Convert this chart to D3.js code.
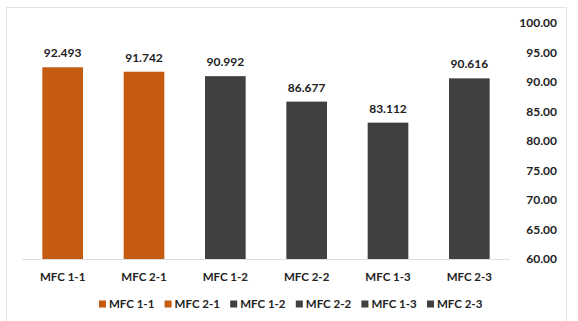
<!DOCTYPE html>
<html lang="en">
<head>
<meta charset="utf-8">
<title>MFC bar chart</title>
<script src="https://cdn.jsdelivr.net/npm/d3@7"></script>
<style>
  body { margin: 0; background: #fff; }
  svg text { font-family: Lato, "Open Sans", sans-serif; font-weight: bold; fill: #222; }
</style>
</head>
<body>
<script>
// chart data
var categories = ["MFC 1-1", "MFC 2-1", "MFC 1-2", "MFC 2-2", "MFC 1-3", "MFC 2-3"];
var values = [92.493, 91.742, 90.992, 86.677, 83.112, 90.616];
var barColors = ["#c55a11", "#c55a11", "#404040", "#404040", "#404040", "#404040"];
var yTicks = [60, 65, 70, 75, 80, 85, 90, 95, 100];

var w = 578, h = 321;
var svg = d3.select("body").append("svg").attr("width", w).attr("height", h);

// outer frame
svg.append("rect")
  .attr("x", 6.5).attr("y", 7.5)
  .attr("width", 560).attr("height", 330)
  .attr("fill", "none").attr("stroke", "#dde1e8");

// plot area (note: "top" is reserved on window, so use other names)
var plotLeft = 22, plotRight = 510, plotTop = 23, plotBottom = 259;

var x = d3.scaleBand().domain(categories).range([plotLeft, plotRight]).paddingInner(0.5).paddingOuter(0.25);
var y = d3.scaleLinear().domain([60, 100]).range([plotBottom, plotTop]);

// bars
svg.selectAll("rect.bar")
  .data(values)
  .enter().append("rect")
  .attr("class", "bar")
  .attr("x", function(d, i) { return x(categories[i]); })
  .attr("y", function(d) { return y(d); })
  .attr("width", x.bandwidth())
  .attr("height", function(d) { return y(60) - y(d); })
  .attr("fill", function(d, i) { return barColors[i]; });

// value labels
svg.selectAll("text.val")
  .data(values)
  .enter().append("text")
  .attr("class", "val")
  .attr("x", function(d, i) { return x(categories[i]) + x.bandwidth() / 2; })
  .attr("y", function(d) { return y(d) - 10; })
  .attr("text-anchor", "middle")
  .attr("font-size", 12)
  .text(function(d) { return d3.format(".3f")(d); });

// baseline
svg.append("line")
  .attr("x1", plotLeft).attr("x2", plotRight)
  .attr("y1", plotBottom + 0.5).attr("y2", plotBottom + 0.5)
  .attr("stroke", "#d9dde4");

// x labels
svg.selectAll("text.cat")
  .data(categories)
  .enter().append("text")
  .attr("class", "cat")
  .attr("x", function(d) { return x(d) + x.bandwidth() / 2; })
  .attr("y", 281)
  .attr("text-anchor", "middle")
  .attr("font-size", 11.5)
  .text(function(d) { return d; });

// right-side value axis
var yAxis = d3.axisRight(y).tickValues(yTicks).tickSize(0).tickFormat(d3.format(".2f"));
var gy = svg.append("g").attr("transform", "translate(557,0)").call(yAxis);
gy.select(".domain").remove();
gy.selectAll("text")
  .attr("x", 0)
  .attr("text-anchor", "end")
  .attr("font-size", 12)
  .attr("font-family", null)
  .attr("fill", "#222");

// legend
var legend = svg.selectAll("g.leg")
  .data(categories)
  .enter().append("g")
  .attr("class", "leg")
  .attr("transform", function(d, i) { return "translate(" + (99 + i * 65.6) + ",304)"; });

legend.append("rect")
  .attr("x", 0).attr("y", -3.5)
  .attr("width", 7).attr("height", 7)
  .attr("fill", function(d, i) { return barColors[i]; });

legend.append("text")
  .attr("x", 10).attr("y", 4)
  .attr("font-size", 11.5)
  .text(function(d) { return d; });
</script>
</body>
</html>
